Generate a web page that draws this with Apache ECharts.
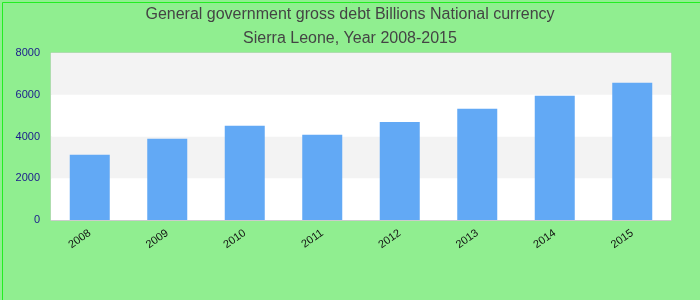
<!DOCTYPE html>
<html>
<head>
<meta charset="utf-8">
<script src="https://cdn.jsdelivr.net/npm/echarts@6/dist/echarts.min.js"></script>
<style>
html,body{margin:0;padding:0;}
#chart{width:700px;height:300px;}
</style>
</head>
<body>
<div id="chart"></div>
<script>
var categories = ['2008','2009','2010','2011','2012','2013','2014','2015'];
var debtValues = [3120, 3890, 4510, 4080, 4700, 5330, 5950, 6580];
var titleLines = ['General government gross debt Billions National currency', 'Sierra Leone, Year 2008-2015'];

var chart = echarts.init(document.getElementById('chart'), null, {renderer:'canvas'});
chart.setOption({
  backgroundColor: '#90EE90',
  animation: false,
  title: {
    text: titleLines.join('\n'),
    left: 'center',
    top: -2,
    textStyle: {
      fontFamily: 'Liberation Sans, Arial, sans-serif',
      fontSize: 16,
      fontWeight: 'normal',
      color: '#444',
      lineHeight: 24
    }
  },
  graphic: [{
    type: 'rect',
    left: 0, top: 0,
    shape: {x:0.5, y:0.5, width:699, height:299},
    style: {fill: 'none', stroke: '#22ee22', lineWidth: 1},
    silent: true
  }],
  grid: {
    left: 51, right: 29, top: 53, bottom: 80,
    show: true,
    borderColor: '#cccccc',
    borderWidth: 1,
    backgroundColor: '#ffffff'
  },
  xAxis: {
    type: 'category',
    data: categories,
    axisLine: {show: true, lineStyle: {color: '#cccccc'}},
    axisTick: {show: false},
    axisLabel: {
      rotate: 35,
      interval: 0,
      color: '#111',
      fontFamily: 'Liberation Sans, Arial, sans-serif',
      fontSize: 11,
      margin: 12
    }
  },
  yAxis: {
    type: 'value',
    min: 0, max: 8000, interval: 2000,
    axisLine: {show: false},
    axisTick: {show: false},
    splitLine: {show: false},
    splitArea: {show: true, areaStyle: {color: ['#ffffff', '#f3f3f3']}},
    axisLabel: {
      color: '#1a1a8c',
      fontFamily: 'Liberation Sans, Arial, sans-serif',
      fontSize: 11,
      margin: 11,
      formatter: function (v) { return String(v); }
    }
  },
  series: [{
    type: 'bar',
    data: debtValues,
    barWidth: 40,
    itemStyle: {color: '#62a9f5'}
  }]
});
</script>
</body>
</html>
